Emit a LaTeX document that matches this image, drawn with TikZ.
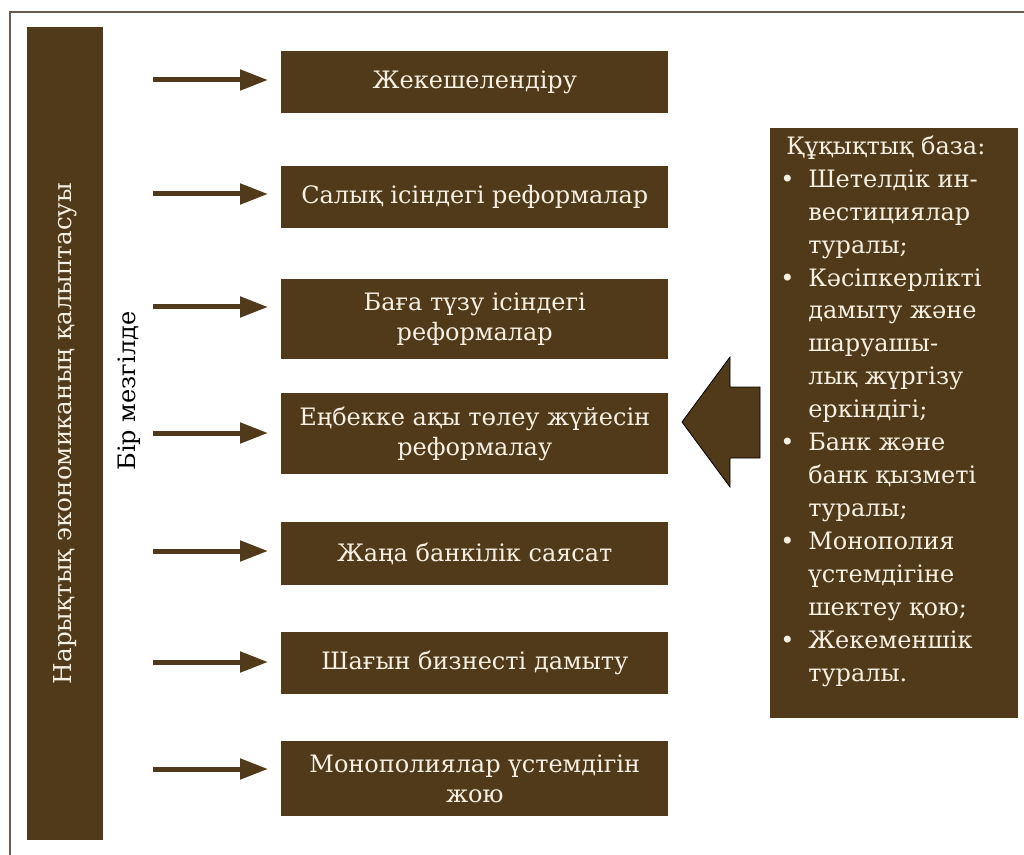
\documentclass[tikz,border=0pt]{standalone}
\usepackage{fontspec}
\setmainfont{DejaVu Serif}
\usetikzlibrary{arrows.meta}
\definecolor{brownfill}{RGB}{80,58,25}
\definecolor{creamtext}{RGB}{246,240,226}
\definecolor{rimcol}{RGB}{105,92,78}
\newdimen\pxu
\pxu=0.75pt
\begin{document}
\begin{tikzpicture}[x=0.75pt,y=-0.75pt,
  darkbox/.style={fill=brownfill, draw=none, inner sep=0pt},
  stagebox/.style={darkbox, text=creamtext, anchor=north west, minimum width=290.25pt,
     align=center, font=\fontsize{18}{22.5}\selectfont},
  arr/.style={draw=brownfill, line width=3.75pt, -{Triangle[length=21pt, width=15pt]}},
  bigarrow/.style={fill=brownfill, draw=black, line width=0.6pt, line join=miter},
  rim/.style={draw=rimcol, line width=1.5pt}]
\useasboundingbox (0,0) rectangle (1024,855);
\fill[white] (0,0) rectangle (1024,855);
% frame (cropped on the right and bottom)
\draw[rim] (10,855) -- (10,12) -- (1024,12);
% left bar
\node[darkbox, text=creamtext, rotate=90, minimum width=609.75pt, minimum height=57pt,
      font=\fontsize{18.5}{22}\selectfont] (lb) at (65,433.5) {Нарықтық экономиканың қалыптасуы};
\node[rotate=90, inner sep=0pt, font=\fontsize{18}{22}\selectfont] (bm) at (129,391) {Бір мезгілде};
% stage boxes
\node[stagebox, minimum height=46.5pt] (b1) at (281,51) {Жекешелендіру};
\node[stagebox, minimum height=46.5pt] (b2) at (281,166) {Салық ісіндегі реформалар};
\node[stagebox, minimum height=60pt] (b3) at (281,279) {Баға түзу ісіндегі\\реформалар};
\node[stagebox, minimum height=60.75pt] (b4) at (281,393) {Еңбекке ақы төлеу жүйесін\\реформалау};
\node[stagebox, minimum height=47.25pt] (b5) at (281,522) {Жаңа банкілік саясат};
\node[stagebox, minimum height=46.5pt] (b6) at (281,632) {Шағын бизнесті дамыту};
\node[stagebox, minimum height=56.25pt] (b7) at (281,741) {Монополиялар үстемдігін\\жою};
% arrows
\foreach \i/\y in {1/80,2/194,3/307,4/433,5/551,6/662,7/769}{
  \coordinate (s\i) at (153,\y);
  \coordinate (t\i) at (268,\y);
  \draw[arr] (s\i) -- (t\i);
}
% right box
\node[darkbox, anchor=north west, minimum width=186pt, minimum height=442.5pt] (rb) at (770,128) {};
\node[anchor=north west, inner sep=0pt, text=creamtext, align=left,
      font=\fontsize{18}{24.7}\selectfont] (rbt) at (780,131)
 {\strut\hspace*{6\pxu}Құқықтық база:\\
  \makebox[28\pxu][l]{\textbullet}Шетелдік ин-\\
  \hspace*{28\pxu}вестициялар\\
  \hspace*{28\pxu}туралы;\\
  \makebox[28\pxu][l]{\textbullet}Кәсіпкерлікті\\
  \hspace*{28\pxu}дамыту және\\
  \hspace*{28\pxu}шаруашы-\\
  \hspace*{28\pxu}лық жүргізу\\
  \hspace*{28\pxu}еркіндігі;\\
  \makebox[28\pxu][l]{\textbullet}Банк және\\
  \hspace*{28\pxu}банк қызметі\\
  \hspace*{28\pxu}туралы;\\
  \makebox[28\pxu][l]{\textbullet}Монополия\\
  \hspace*{28\pxu}үстемдігіне\\
  \hspace*{28\pxu}шектеу қою;\\
  \makebox[28\pxu][l]{\textbullet}Жекеменшік\\
  \hspace*{28\pxu}туралы.};
% block arrow from the legal base to the wage reform box
\draw[bigarrow] (682,422) -- (730,357) -- (730,387) -- (760,387) -- (760,458) -- (730,458) -- (730,487) -- cycle;
\end{tikzpicture}
\end{document}
